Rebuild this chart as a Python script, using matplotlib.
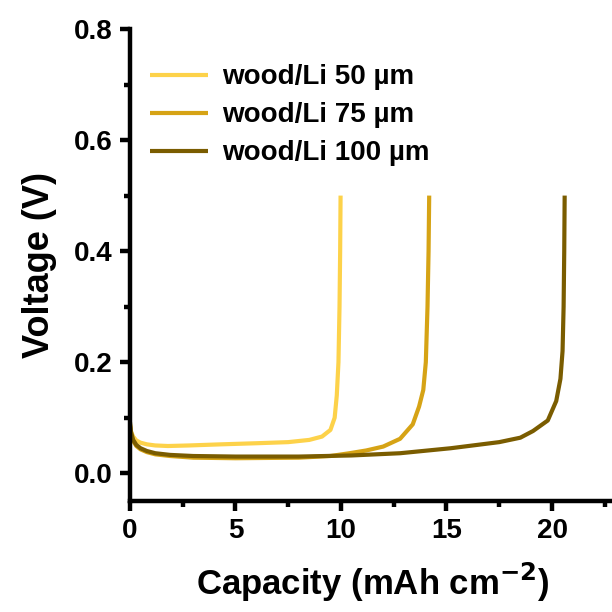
import matplotlib
matplotlib.use('Agg')
import matplotlib.pyplot as plt
from matplotlib.ticker import MultipleLocator

plt.rcParams['font.family'] = ['Liberation Sans', 'DejaVu Sans']
plt.rcParams['font.weight'] = 'bold'

labels = ['wood/Li 50 µm', 'wood/Li 75 µm', 'wood/Li 100 µm']
colors = ['#FDD24A', '#D6A315', '#7A5C00']

cap50 = [0, 0.05, 0.15, 0.3, 0.5, 0.8, 1.2, 1.8, 2.8, 4.3, 6.0, 7.5, 8.5, 9.1, 9.5, 9.7, 9.8, 9.88, 9.93, 9.96, 9.98]
v50 = [0.088, 0.075, 0.066, 0.059, 0.055, 0.052, 0.05, 0.049, 0.05, 0.052, 0.054, 0.056, 0.06, 0.066, 0.078, 0.1, 0.14, 0.2, 0.3, 0.4, 0.5]

cap75 = [0, 0.05, 0.15, 0.3, 0.5, 0.8, 1.2, 1.9, 3, 5, 8, 9.5, 10.4, 11.2, 12.0, 12.8, 13.4, 13.7, 13.9, 14.02, 14.1, 14.15, 14.18]
v75 = [0.085, 0.07, 0.058, 0.049, 0.043, 0.038, 0.034, 0.031, 0.028, 0.027, 0.028, 0.031, 0.036, 0.041, 0.048, 0.062, 0.088, 0.12, 0.15, 0.2, 0.3, 0.4, 0.5]

cap100 = [0, 0.05, 0.15, 0.3, 0.5, 0.8, 1.2, 1.9, 3, 5, 8, 10.5, 12.8, 15.2, 17.5, 18.5, 19.1, 19.8, 20.2, 20.4, 20.5, 20.55, 20.58, 20.6]
v100 = [0.092, 0.074, 0.06, 0.051, 0.045, 0.04, 0.036, 0.033, 0.031, 0.03, 0.03, 0.032, 0.036, 0.045, 0.056, 0.064, 0.076, 0.095, 0.13, 0.17, 0.22, 0.3, 0.4, 0.5]

caps = [cap50, cap75, cap100]
volts = [v50, v75, v100]

fig = plt.figure(figsize=(6.12, 6.12), dpi=100)
ax = fig.add_axes([0.2124, 0.1814, 0.793, 0.7712])

for c, v, col, lab in zip(caps, volts, colors, labels):
    ax.plot(c, v, color=col, lw=3, label=lab, solid_capstyle='butt')

ax.set_xlim(0, 23)
ax.set_ylim(-0.05, 0.8)
ax.xaxis.set_major_locator(MultipleLocator(5))
ax.xaxis.set_minor_locator(MultipleLocator(2.5))
ax.yaxis.set_major_locator(MultipleLocator(0.2))
ax.yaxis.set_minor_locator(MultipleLocator(0.1))

for s in ['top', 'right']:
    ax.spines[s].set_visible(False)
for s in ['left', 'bottom']:
    ax.spines[s].set_linewidth(3.2)

ax.tick_params(which='major', direction='out', length=7.5, width=3.2, labelsize=20, pad=5)
ax.tick_params(which='minor', direction='out', length=4, width=3.2)

ax.set_xlabel('Capacity (mAh cm$^{\\mathbf{-2}}$)', fontsize=25, fontweight='bold',
              fontstyle='normal', labelpad=12)
ax.set_ylabel('Voltage (V)', fontsize=26, fontweight='bold', fontstyle='normal', labelpad=12)

ax.legend(loc='upper left', frameon=False, fontsize=20, handlelength=2.1,
          handletextpad=0.5, labelspacing=0.43, borderpad=0, borderaxespad=0,
          bbox_to_anchor=(0.041, 0.925))

fig.savefig('out.png', dpi=100)
